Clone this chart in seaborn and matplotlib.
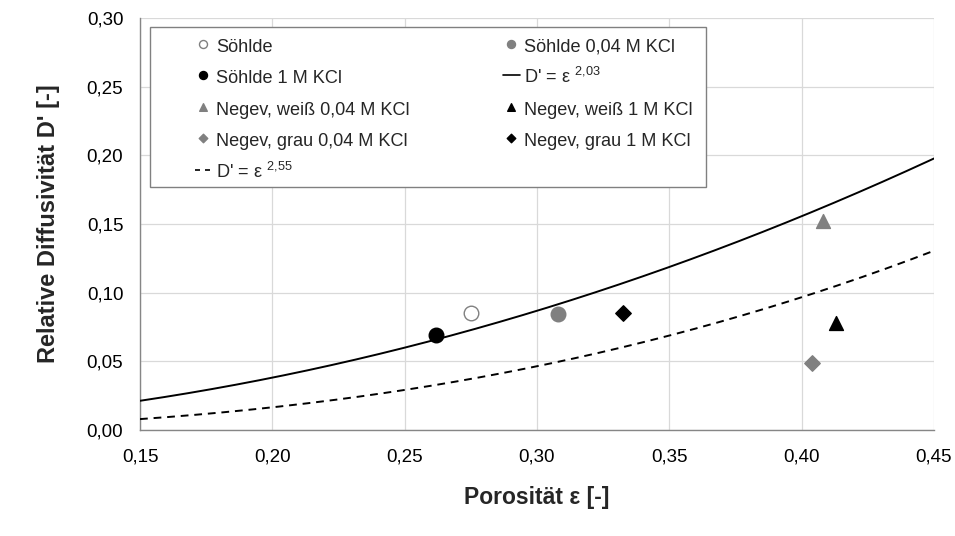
import numpy as np
import pandas as pd
import matplotlib
matplotlib.use("Agg")
import matplotlib.pyplot as plt
import seaborn as sns
from matplotlib.ticker import FuncFormatter
from matplotlib.patches import Rectangle

# ---- data ----
series_names = ["Söhlde", "Söhlde 0,04 M KCl", "Söhlde 1 M KCl",
                "Negev, weiß 0,04 M KCl", "Negev, weiß 1 M KCl",
                "Negev, grau 0,04 M KCl", "Negev, grau 1 M KCl"]
porosity = [0.275, 0.308, 0.262, 0.408, 0.413, 0.404, 0.3325]
diffusivity = [0.085, 0.0845, 0.069, 0.152, 0.078, 0.049, 0.085]
exponents = [2.03, 2.55]
x_ticks = [0.15, 0.20, 0.25, 0.30, 0.35, 0.40, 0.45]
y_ticks = [0.00, 0.05, 0.10, 0.15, 0.20, 0.25, 0.30]

styles = {
    "Söhlde": dict(marker="o", facecolor="white", edgecolor="#808080", s=110),
    "Söhlde 0,04 M KCl": dict(marker="o", facecolor="#808080", edgecolor="#808080", s=110),
    "Söhlde 1 M KCl": dict(marker="o", facecolor="black", edgecolor="black", s=110),
    "Negev, weiß 0,04 M KCl": dict(marker="^", facecolor="#808080", edgecolor="#808080", s=100),
    "Negev, weiß 1 M KCl": dict(marker="^", facecolor="black", edgecolor="black", s=100),
    "Negev, grau 0,04 M KCl": dict(marker="D", facecolor="#808080", edgecolor="#808080", s=62),
    "Negev, grau 1 M KCl": dict(marker="D", facecolor="black", edgecolor="black", s=62),
}

sns.set_style("white")
plt.rcParams["font.family"] = ["Liberation Sans", "DejaVu Sans"]
plt.rcParams["mathtext.default"] = "regular"

fig = plt.figure(figsize=(9.55, 5.36), dpi=100)
ax = fig.add_axes([0.1466, 0.1978, 0.8314, 0.7686])

handles = {}
df = pd.DataFrame({"series": series_names, "x": porosity, "y": diffusivity})
for name in series_names:
    st = styles[name]
    sub = df[df["series"] == name]
    sns.scatterplot(data=sub, x="x", y="y", ax=ax, marker=st["marker"],
                    s=st["s"], color=st["facecolor"], edgecolor=st["edgecolor"],
                    linewidth=1.0, zorder=5, legend=False)
    handles[name] = ax.scatter([], [], marker=st["marker"], s=st["s"],
                               facecolor=st["facecolor"], edgecolor=st["edgecolor"],
                               linewidth=1.0)

eps = np.linspace(0.15, 0.45, 200)
curve_df = pd.DataFrame({"eps": eps,
                         "d1": eps ** exponents[0],
                         "d2": eps ** exponents[1]})
sns.lineplot(data=curve_df, x="eps", y="d1", ax=ax, color="black", linewidth=1.4,
             zorder=4, legend=False)
sns.lineplot(data=curve_df, x="eps", y="d2", ax=ax, color="black", linewidth=1.4,
             linestyle=(0, (4, 3)), zorder=4, legend=False)
h1, = ax.plot([], [], color="black", linewidth=1.2)
h2, = ax.plot([], [], color="black", linewidth=1.2, linestyle=(0, (3, 3)))
lab1 = "D' = ε $^{2{,}03}$"
lab2 = "D' = ε $^{2{,}55}$"

ax.set_xlim(0.15, 0.45)
ax.set_ylim(0.0, 0.30)
ax.set_xticks(x_ticks)
ax.set_yticks(y_ticks)
fmt = FuncFormatter(lambda v, p: f"{v:.2f}".replace(".", ","))
ax.xaxis.set_major_formatter(fmt)
ax.yaxis.set_major_formatter(fmt)
ax.grid(True, color="#d9d9d9", linewidth=0.9)
ax.set_axisbelow(True)
for sp in ["top", "right"]:
    ax.spines[sp].set_visible(False)
for sp in ["left", "bottom"]:
    ax.spines[sp].set_color("#868686")
    ax.spines[sp].set_linewidth(1.0)
ax.tick_params(axis="both", which="major", direction="out", length=5, width=0.8,
               color="#868686", labelsize=13.5, labelcolor="black", pad=8)
ax.tick_params(axis="y", pad=7)

ax.set_xlabel("Porosität ε [-]", fontsize=16.5, fontweight="bold", labelpad=15)
ax.set_ylabel("Relative Diffusivität D' [-]", fontsize=17, fontweight="bold", labelpad=19)

# legend frame (pixel box 150..706 x 27..187)
W, H = 794.0, 412.0
frame = Rectangle(((150 - 140) / W, (430 - 187) / H), (706 - 150) / W, (187 - 27) / H,
                  transform=ax.transAxes, facecolor="white", edgecolor="#808080",
                  linewidth=1.0, zorder=8, clip_on=False)
ax.add_patch(frame)

order_col1 = ["Söhlde", "Söhlde 1 M KCl", "Negev, weiß 0,04 M KCl", "Negev, grau 0,04 M KCl"]
order_col2 = ["Söhlde 0,04 M KCl", "Negev, weiß 1 M KCl", "Negev, grau 1 M KCl"]
hs = [handles[n] for n in order_col1] + [h2] + [handles[order_col2[0]], h1] + [handles[n] for n in order_col2[1:]]
ls = order_col1 + [lab2] + [order_col2[0], lab1] + order_col2[1:]
leg = ax.legend(hs, ls, ncol=2, loc="upper left",
                bbox_to_anchor=((195 - 140) / W, (430 - 35) / H),
                fontsize=13.1, frameon=False, markerscale=0.55,
                handlelength=0.93, handleheight=1.4, handletextpad=0.25,
                labelspacing=0.58, borderpad=0.0, borderaxespad=0.0,
                columnspacing=5.1)
leg.set_zorder(10)

fig.savefig("out.png", dpi=100)
